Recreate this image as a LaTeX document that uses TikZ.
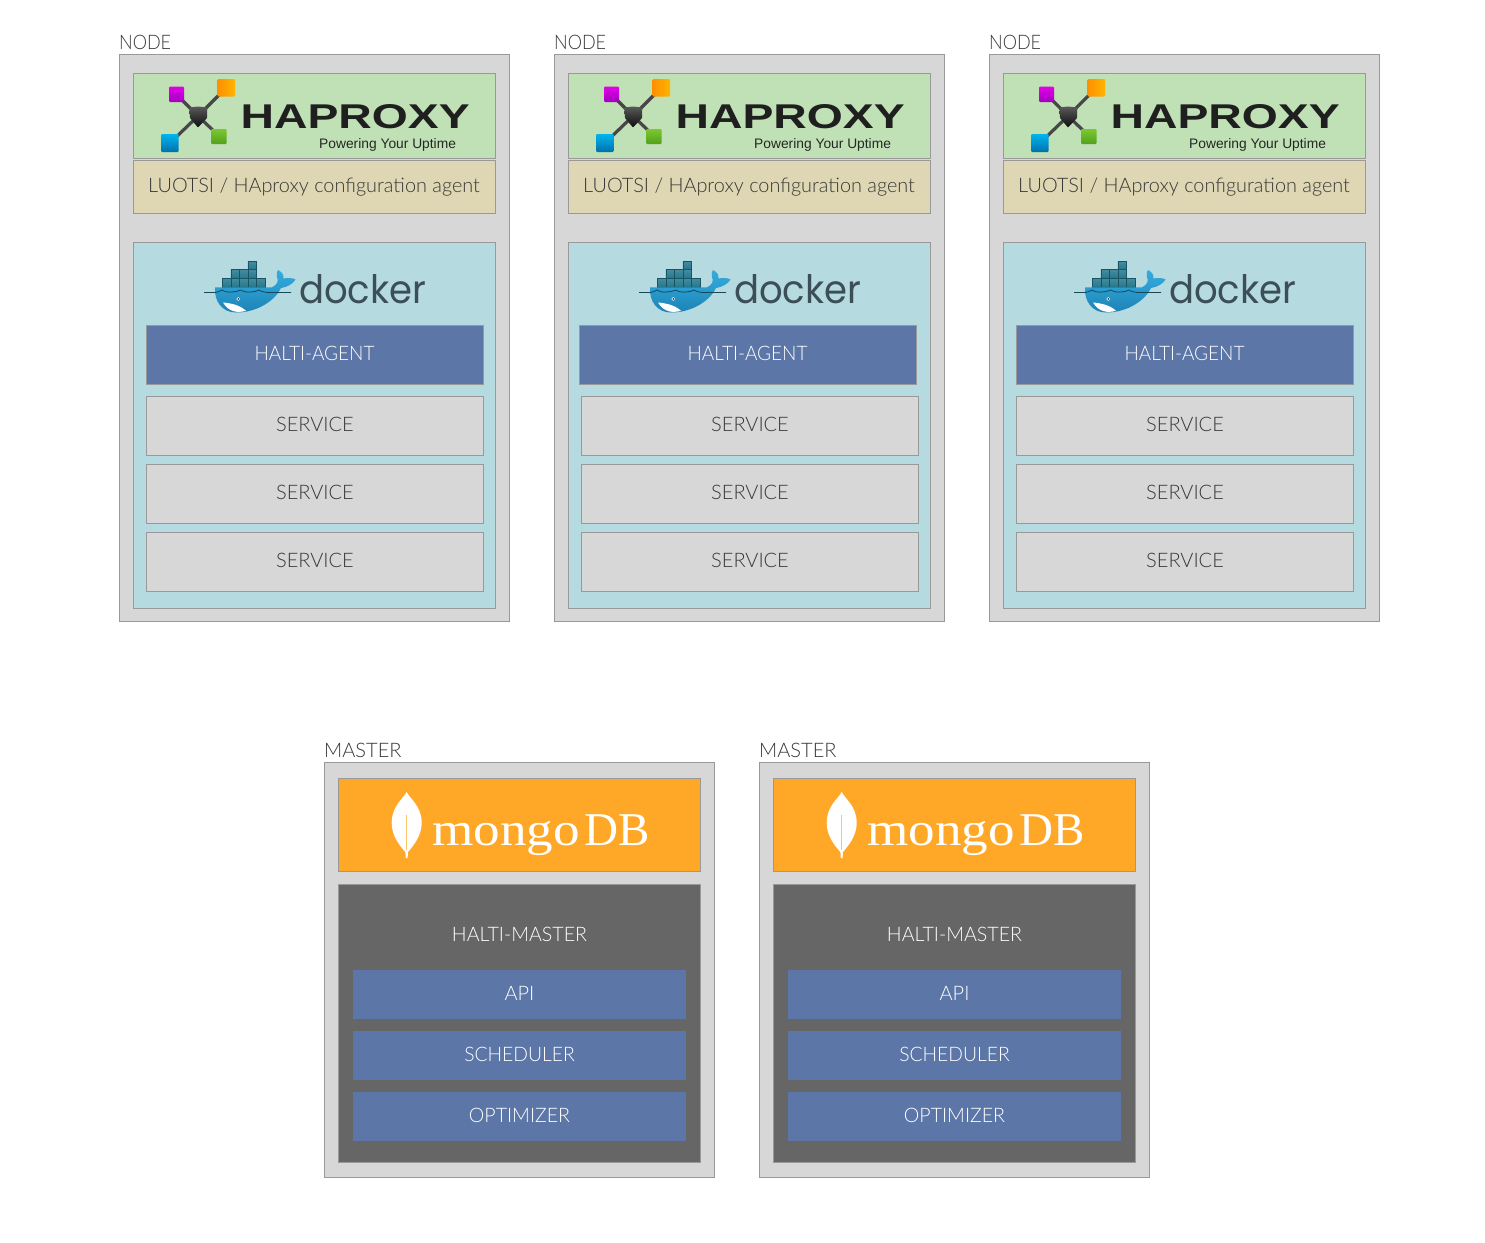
\documentclass[tikz,border=0pt]{standalone}
\usepackage{fontspec}
\usepackage{graphicx}
\setmainfont{Lato Light}
\newfontfamily\hafont{Liberation Sans}
\newfontfamily\dockerfont{Poppins}
\newfontfamily\mongofont{Liberation Serif}
\definecolor{panel}{HTML}{D7D7D7}
\definecolor{edge}{HTML}{999999}
\definecolor{hagreen}{HTML}{C0E0B5}
\definecolor{luotan}{HTML}{DFD7B3}
\definecolor{dockerbg}{HTML}{B5DAE0}
\definecolor{steel}{HTML}{5B76A7}
\definecolor{mongoor}{HTML}{FFA827}
\definecolor{haltigray}{HTML}{666666}
\definecolor{ink}{HTML}{383838}
\definecolor{whaleblue}{HTML}{2899CC}
\definecolor{whaletop}{HTML}{37ABDD}
\definecolor{whalelow}{HTML}{1E82B5}
\definecolor{crate}{HTML}{25788F}
\definecolor{sqmagA}{HTML}{E400E8}
\definecolor{sqmagB}{HTML}{A000C0}
\definecolor{sqorA}{HTML}{FF9000}
\definecolor{sqorB}{HTML}{FFB400}
\definecolor{sqblA}{HTML}{00B5EC}
\definecolor{sqblB}{HTML}{0070AD}
\definecolor{sqgrA}{HTML}{7CC82E}
\definecolor{sqgrB}{HTML}{52A01E}
\tikzset{
  x=1pt,y=-1pt,
  lbl/.style={font=\fontsize{20}{24}\selectfont,text=ink,inner sep=0pt},
  wlbl/.style={font=\fontsize{20}{24}\selectfont,text=white,inner sep=0pt},
  panelbox/.style={draw=edge,fill=panel,line width=1pt},
  hgbox/.style={draw=edge,fill=hagreen,line width=1pt},
  tanbox/.style={draw=edge,fill=luotan,line width=1pt},
  dkbox/.style={draw=edge,fill=dockerbg,line width=1pt},
  agentbox/.style={draw=edge,fill=steel,line width=1pt},
  mgbox/.style={draw=edge,fill=mongoor,line width=1pt},
  hmbox/.style={draw=edge,fill=haltigray,line width=1pt},
  subbox/.style={fill=steel},
  arm/.style={draw=black!72,line width=3.2pt},
  cratecell/.style={top color=crate!85!white,bottom color=crate,draw=crate!70!black,line width=.3pt},
  pics/nodecol/.style={code={
    \path[panelbox] (119.5,54.5) rectangle (509.5,621.5);
    \node[lbl,anchor=west] (title) at (119,42) {\scalebox{.9}[1]{NODE}};
    \path[hgbox] (133.5,73.5) rectangle (495.5,158.5);
    % HAProxy logo
    \draw[arm] (178,96) -- (198,116); \draw[arm] (226,88) -- (198,116);
    \draw[arm] (170,143) -- (198,116); \draw[arm] (219,136) -- (198,116);
    \shade[top color=black!65,bottom color=black!95,rounded corners=.6pt]
      (189.3,107.5) -- (198,106.5) -- (207.3,107.5) -- (207,118) -- (198,127.5) -- (190,118) -- cycle;
    \shade[top color=sqmagA,bottom color=sqmagB,rounded corners=1pt] (169,86.7) rectangle (184,102);
    \shade[shading angle=45,left color=sqorA,right color=sqorB,rounded corners=1pt] (217.7,79) rectangle (235,96.5);
    \shade[top color=sqblA,bottom color=sqblB,rounded corners=1pt] (161,134) rectangle (178.5,152);
    \shade[top color=sqgrA,bottom color=sqgrB,rounded corners=1pt] (211,129) rectangle (226.7,144);
    \node[inner sep=0pt,anchor=north west] (halogo) at (240.5,104)
      {\resizebox{229pt}{24pt}{\hafont\bfseries\color{black!88}HAPROXY}};
    \node[inner sep=0pt,anchor=base west,font=\hafont\fontsize{13.8}{16}\selectfont,text=black!85] (hasub) at (319,148) {Powering Your Uptime};
    \path[tanbox] (133.5,160.5) rectangle (495.5,213.5);
    \node[lbl] (luotsi) at (314,187) {\scalebox{.993}[1]{LUOTSI / HAproxy configuration agent}};
    \path[dkbox] (133.5,242.5) rectangle (495.5,608.5);
    % Docker logo
    \foreach \cx in {222.3,230.8,239.3,247.8,256.3} \path[cratecell] (\cx,278) rectangle ++(8.5,8.8);
    \foreach \cx in {230.8,239.3,247.8} \path[cratecell] (\cx,269.5) rectangle ++(8.5,8.5);
    \path[cratecell] (247.8,261) rectangle ++(8.5,8.5);
    \shade[top color=whaletop,bottom color=whalelow,middle color=whaleblue] (215,287.3) -- (272,287.3) .. controls (277,285) and (279,281) .. (277,277)
      .. controls (276,274) and (277,271) .. (278,270) .. controls (282,272) and (284,275) .. (283.5,278.5)
      .. controls (288,277.5) and (293,278) .. (295.5,279.5) .. controls (293,284) and (287,287) .. (281,288)
      .. controls (276,299) and (259,312.5) .. (236,312.5) .. controls (222,312.5) and (214,301) .. (215,287.3) -- cycle;
    \fill[white] (223,302.5) .. controls (230,303) and (240,305) .. (246,310.8) .. controls (238,313) and (229,312.5) .. (223,302.5) -- cycle;
    \fill[white] (238.3,299) circle (1.9);
    \fill[crate!55!black] (238.3,299) circle (1);
    \draw[crate!60!black,line width=.8pt] (204,292.5) -- (215,292.5)
      .. controls (218,292) and (220,291.5) .. (222,290)
      .. controls (224,291.5) and (228,292.5) .. (232,292) .. controls (235,292) and (238,291) .. (241,290)
      .. controls (243,291.5) and (247,292.5) .. (251,292) .. controls (254,292) and (257,291) .. (259,290)
      .. controls (261,291.5) and (265,292.5) .. (269,292.5) -- (291,292.5);
    \node[inner sep=0pt,anchor=north west] (dklogo) at (299,274.7)
      {\resizebox{127pt}{29pt}{\dockerfont\color[HTML]{3C4E56}docker}};
  }},
  pics/servicerows/.style={code={
    \path[panelbox] (146.5,396.5) rectangle (483.5,455.5);
    \node[lbl] (s1) at (315,424) {SERVICE};
    \path[panelbox] (146.5,464.5) rectangle (483.5,523.5);
    \node[lbl] (s2) at (315,492) {SERVICE};
    \path[panelbox] (146.5,532.5) rectangle (483.5,591.5);
    \node[lbl] (s3) at (315,560) {SERVICE};
  }},
  pics/agentrow/.style={code={
    \path[agentbox] (146.5,325.5) rectangle (483.5,384.5);
    \node[wlbl] (agent) at (314.5,353) {\scalebox{.95}[1]{HALTI-AGENT}};
  }},
  pics/mastercol/.style={code={
    \path[panelbox] (324.5,762.5) rectangle (714.5,1177.5);
    \node[lbl,anchor=west] (title) at (324,750) {MASTER};
    \path[mgbox] (338.5,778.5) rectangle (700.5,871.5);
    % MongoDB leaf
    \fill[white] (406.7,792) .. controls (410,799) and (421.7,806) .. (421.7,823)
      .. controls (421.7,836) and (413,846) .. (408,852) -- (407.6,858) -- (405.8,858) -- (405.4,852)
      .. controls (400,846) and (391.7,836) .. (391.7,823) .. controls (391.7,806) and (403,799) .. (406.7,792) -- cycle;
    \draw[mongoor!70!white,line width=.6pt] (406.7,815) -- (406.7,850);
    \node[inner sep=0pt,anchor=base west,text=white,font=\mongofont\fontsize{47}{50}\selectfont] (mglogo) at (432,845)
      {\scalebox{1.13}[1]{mongo}\kern5pt DB};
    \path[hmbox] (338.5,884.5) rectangle (700.5,1162.5);
    \node[wlbl] (hm) at (519.5,934) {\scalebox{.98}[1]{HALTI-MASTER}};
    \path[subbox] (353,970) rectangle (686,1019);
    \node[wlbl] (api) at (519.5,993) {API};
    \path[subbox] (353,1031) rectangle (686,1080);
    \node[wlbl] (sched) at (519.5,1054) {\scalebox{.965}[1]{SCHEDULER}};
    \path[subbox] (353,1092) rectangle (686,1141);
    \node[wlbl] (opt) at (519.5,1115) {\scalebox{.98}[1]{OPTIMIZER}};
  }}
}
\begin{document}
\begin{tikzpicture}
\useasboundingbox (0,0) rectangle (1485,1242);
\fill[white] (0,0) rectangle (1485,1242);
\pic (na-) at (0,0) {nodecol};
\pic (nb-) at (435,0) {nodecol};
\pic (nc-) at (870,0) {nodecol};
\pic (aa-) at (0,0) {agentrow};
\pic (ab-) at (433,0) {agentrow};
\pic (ac-) at (870,0) {agentrow};
\pic (sa-) at (0,0) {servicerows};
\pic (sb-) at (435,0) {servicerows};
\pic (sc-) at (870,0) {servicerows};
\pic (ma-) at (0,0) {mastercol};
\pic (mb-) at (435,0) {mastercol};
\end{tikzpicture}
\end{document}
